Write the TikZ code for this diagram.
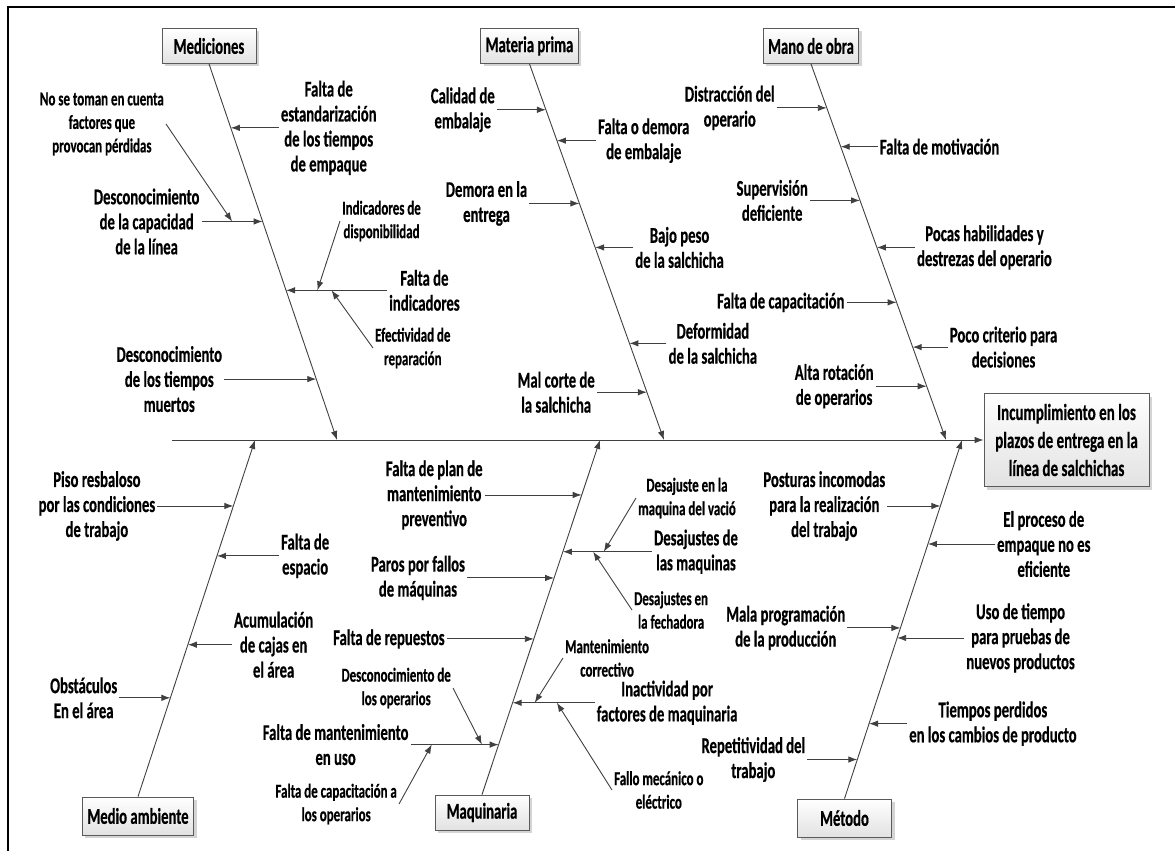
\documentclass[tikz,border=0pt]{standalone}
\usepackage{fontspec}
\setmainfont{Carlito}[FakeStretch=0.653, BoldFeatures={FakeBold=0.5}]
\usepackage{tikz}
\usetikzlibrary{
  positioning, arrows.meta, calc, shadows,
}
\definecolor{cLine}    {HTML}{404040}
\definecolor{cBoxEdge} {HTML}{5A5A5A}
\definecolor{cBoxFill} {HTML}{E2E2E2}
\definecolor{cShadow}  {HTML}{B8B8B8}

\tikzset{
  bone/.style={draw=cLine, line width=0.9pt, -{Latex[length=9pt, width=6.5pt]}},
  lbl/.style={font=\bfseries\fontsize{22.5}{25}\selectfont, align=center, inner sep=2pt},
  sublbl/.style={font=\bfseries\fontsize{19.8}{23.5}\selectfont, align=center, inner sep=2pt},
  catbox/.style={draw=cBoxEdge, line width=0.8pt, top color=white, bottom color=cBoxFill,
    drop shadow={shadow xshift=3pt, shadow yshift=-3pt, fill=cShadow, opacity=0.6},
    font=\bfseries\fontsize{22.5}{25}\selectfont, minimum width=94pt, minimum height=35pt,
    inner xsep=5pt, align=center},
}

\begin{document}
\begin{tikzpicture}[x=1pt, y=-1pt]
  \useasboundingbox (0,0) rectangle (1175,851);
  \draw[line width=2.3pt] (1175,7) -- (8,7) -- (8,851);

  \node[catbox] (med) at (209,46) {Mediciones};
  \node[catbox] (mat) at (529.5,46) {Materia prima};
  \node[catbox] (mob) at (811,46) {Mano de obra};
  \node[catbox, minimum height=38pt] (amb) at (138,816) {Medio ambiente};
  \node[catbox] (maq) at (482,812.5) {Maquinaria};
  \node[catbox, minimum height=38pt] (met) at (844.5,818) {Método};
  \node[catbox, minimum width=165pt, minimum height=93pt, inner xsep=6pt,
        font=\bfseries\fontsize{23}{28}\selectfont] (eff) at (1066.5,440)
       {Incumplimiento en los\\plazos de entrega en la\\línea de salchichas};

  \coordinate (spS)  at (172,440);
  \coordinate (eMed) at (337,440);
  \coordinate (eMat) at (664,440);
  \coordinate (eMob) at (946,440);
  \coordinate (eAmb) at (255,440);
  \coordinate (eMaq) at (600,440);
  \coordinate (eMet) at (962,440);

  \draw[bone] (spS) -- (eff);
  \draw[bone] (med.south) -- (eMed);
  \draw[bone] (mat.south) -- (eMat);
  \draw[bone] (mob.south) -- (eMob);
  \draw[bone] (amb.north) -- (eAmb);
  \draw[bone] (maq.north) -- (eMaq);
  \draw[bone] (met.north) -- (eMet);

  % Mediciones
  \coordinate (mEst) at ($(med.south)!0.170!(eMed)$);
  \coordinate (mCap) at ($(med.south)!0.419!(eMed)$);
  \coordinate (mInd) at ($(med.south)!0.602!(eMed)$);
  \coordinate (mTm)  at ($(med.south)!0.838!(eMed)$);
  \node[lbl, right=48pt of mEst] (est) {Falta de\\estandarización\\de los tiempos\\de empaque};
  \node[lbl, left=61pt of mCap] (cap) {Desconocimiento\\de la capacidad\\de la línea};
  \node[lbl, right=101pt of mInd] (ind) {Falta de\\indicadores};
  \node[lbl, left=92pt of mTm] (tm) {Desconocimiento\\de los tiempos\\muertos};
  \draw[bone] (est.west) -- (mEst);
  \draw[bone] (cap.east) -- (mCap);
  \draw[bone] (ind.west) -- (mInd);
  \draw[bone] (tm.east) -- (mTm);
  \coordinate (pNst)  at ($(cap.east)!0.5!(mCap)$);
  \coordinate (pDisp) at ($(ind.west)!0.69!(mInd)$);
  \coordinate (pEfe)  at ($(ind.west)!0.55!(mInd)$);
  \node[sublbl, anchor=east] (nst) at (166,124) {No se toman en cuenta\\factores que\\provocan pérdidas};
  \node[sublbl, anchor=west] (disp) at (340,221) {Indicadores de\\disponibilidad};
  \node[sublbl, anchor=west] (efe) at (373,348) {Efectividad de\\reparación};
  \draw[bone] (nst.east) -- (pNst);
  \draw[bone] (disp.west) -- (pDisp);
  \draw[bone] (efe.west) -- (pEfe);

  % Materia prima
  \coordinate (mCal)  at ($(mat.south)!0.122!(eMat)$);
  \coordinate (mFde)  at ($(mat.south)!0.204!(eMat)$);
  \coordinate (mDem)  at ($(mat.south)!0.371!(eMat)$);
  \coordinate (mBajo) at ($(mat.south)!0.488!(eMat)$);
  \coordinate (mDef)  at ($(mat.south)!0.743!(eMat)$);
  \coordinate (mMal)  at ($(mat.south)!0.873!(eMat)$);
  \node[lbl, left=49pt of mCal] (cal) {Calidad de\\embalaje};
  \node[lbl, right=39pt of mFde] (fde) {Falta o demora\\de embalaje};
  \node[lbl, left=50pt of mDem] (dem) {Demora en la\\entrega};
  \node[lbl, right=38pt of mBajo] (bajo) {Bajo peso\\de la salchicha};
  \node[lbl, right=37pt of mDef] (def) {Deformidad\\de la salchicha};
  \node[lbl, left=50pt of mMal] (mal) {Mal corte de\\la salchicha};
  \draw[bone] (cal.east) -- (mCal);
  \draw[bone] (fde.west) -- (mFde);
  \draw[bone] (dem.east) -- (mDem);
  \draw[bone] (bajo.west) -- (mBajo);
  \draw[bone] (def.west) -- (mDef);
  \draw[bone] (mal.east) -- (mMal);

  % Mano de obra
  \coordinate (mDis)  at ($(mob.south)!0.117!(eMob)$);
  \coordinate (mMot)  at ($(mob.south)!0.220!(eMob)$);
  \coordinate (mSup)  at ($(mob.south)!0.363!(eMob)$);
  \coordinate (mHab)  at ($(mob.south)!0.488!(eMob)$);
  \coordinate (mFcap) at ($(mob.south)!0.634!(eMob)$);
  \coordinate (mCri)  at ($(mob.south)!0.753!(eMob)$);
  \coordinate (mRot)  at ($(mob.south)!0.857!(eMob)$);
  \node[lbl, left=50pt of mDis] (dis) {Distracción del\\operario};
  \node[lbl, right=37pt of mMot] (mot) {Falta de motivación};
  \node[lbl, left=50pt of mSup] (sup) {Supervisión\\deficiente};
  \node[lbl, right=38pt of mHab] (hab) {Pocas habilidades y\\destrezas del operario};
  \node[lbl, left=50pt of mFcap] (fcap) {Falta de capacitación};
  \node[lbl, right=35pt of mCri] (cri) {Poco criterio para\\decisiones};
  \node[lbl, left=51pt of mRot] (rot) {Alta rotación\\de operarios};
  \draw[bone] (dis.east) -- (mDis);
  \draw[bone] (mot.west) -- (mMot);
  \draw[bone] (sup.east) -- (mSup);
  \draw[bone] (hab.west) -- (mHab);
  \draw[bone] (fcap.east) -- (mFcap);
  \draw[bone] (cri.west) -- (mCri);
  \draw[bone] (rot.east) -- (mRot);

  % Medio ambiente
  \coordinate (mPiso) at ($(eAmb)!0.185!(amb.north)$);
  \coordinate (mEsp)  at ($(eAmb)!0.325!(amb.north)$);
  \coordinate (mAcu)  at ($(eAmb)!0.574!(amb.north)$);
  \coordinate (mObs)  at ($(eAmb)!0.723!(amb.north)$);
  \node[lbl, left=76pt of mPiso] (piso) {Piso resbaloso\\por las condiciones\\de trabajo};
  \node[lbl, right=62pt of mEsp] (esp) {Falta de\\espacio};
  \node[lbl, right=44pt of mAcu] (acu) {Acumulación\\de cajas en\\el área};
  \node[lbl, left=51pt of mObs] (obs) {Obstáculos\\En el área};
  \draw[bone] (piso.east) -- (mPiso);
  \draw[bone] (esp.west) -- (mEsp);
  \draw[bone] (acu.west) -- (mAcu);
  \draw[bone] (obs.east) -- (mObs);

  % Maquinaria
  \coordinate (mPlan)  at ($(eMaq)!0.155!(maq.north)$);
  \coordinate (mDesm)  at ($(eMaq)!0.315!(maq.north)$);
  \coordinate (mParos) at ($(eMaq)!0.389!(maq.north)$);
  \coordinate (mRep)   at ($(eMaq)!0.561!(maq.north)$);
  \coordinate (mIna)   at ($(eMaq)!0.741!(maq.north)$);
  \coordinate (mFmu)   at ($(eMaq)!0.859!(maq.north)$);
  \node[lbl, left=97pt of mPlan] (plan) {Falta de plan de\\mantenimiento\\preventivo};
  \node[lbl, right=89pt of mDesm] (desm) {Desajustes de\\las maquinas};
  \node[lbl, left=87pt of mParos] (paros) {Paros por fallos\\de máquinas};
  \node[lbl, left=87pt of mRep] (rep) {Falta de repuestos};
  \node[lbl, right=82pt of mIna] (ina) {Inactividad por\\factores de maquinaria};
  \node[lbl, left=88pt of mFmu] (fmu) {Falta de mantenimiento\\en uso};
  \draw[bone] (plan.east) -- (mPlan);
  \draw[bone] (desm.west) -- (mDesm);
  \draw[bone] (paros.east) -- (mParos);
  \draw[bone] (rep.east) -- (mRep);
  \draw[bone] (ina.west) -- (mIna);
  \draw[bone] (fmu.east) -- (mFmu);
  \coordinate (pVac)   at ($(desm.west)!0.54!(mDesm)$);
  \coordinate (pFech)  at ($(desm.west)!0.66!(mDesm)$);
  \coordinate (pCorr)  at ($(ina.west)!0.73!(mIna)$);
  \coordinate (pFallo) at ($(ina.west)!0.46!(mIna)$);
  \coordinate (pDop)   at ($(fmu.east)!0.81!(mFmu)$);
  \coordinate (pFcop)  at ($(fmu.east)!0.24!(mFmu)$);
  \node[sublbl, anchor=west] (vac) at (636,498) {Desajuste en la\\maquina del vació};
  \node[sublbl, anchor=west] (fech) at (632,610) {Desajustes en\\la fechadora};
  \node[sublbl, anchor=west] (corr) at (563,658) {Mantenimiento\\correctivo};
  \node[sublbl, anchor=west] (fallo) at (612,790) {Fallo mecánico o\\eléctrico};
  \node[sublbl, anchor=east] (dop) at (453,688) {Desconocimiento de\\los operarios};
  \node[sublbl, anchor=east] (fcop) at (399,804) {Falta de capacitación a\\los operarios};
  \draw[bone] (vac.west) -- (pVac);
  \draw[bone] (fech.west) -- (pFech);
  \draw[bone] (corr.west) -- (pCorr);
  \draw[bone] (fallo.west) -- (pFallo);
  \draw[bone] (dop.east) -- (pDop);
  \draw[bone] (fcop.east) -- (pFcop);

  % Metodo
  \coordinate (mPost) at ($(eMet)!0.184!(met.north)$);
  \coordinate (mProc) at ($(eMet)!0.290!(met.north)$);
  \coordinate (mMala) at ($(eMet)!0.524!(met.north)$);
  \coordinate (mUso)  at ($(eMet)!0.552!(met.north)$);
  \coordinate (mTiem) at ($(eMet)!0.791!(met.north)$);
  \coordinate (mRpt)  at ($(eMet)!0.891!(met.north)$);
  \node[lbl, left=53pt of mPost] (post) {Posturas incomodas\\para la realización\\del trabajo};
  \node[lbl, right=67pt of mProc] (proc) {El proceso de\\empaque no es\\eficiente};
  \node[lbl, left=53pt of mMala] (mala) {Mala programación\\de la producción};
  \node[lbl, right=67pt of mUso] (uso) {Uso de tiempo\\para pruebas de\\nuevos productos};
  \node[lbl, right=38pt of mTiem] (tiem) {Tiempos perdidos\\en los cambios de producto};
  \node[lbl, left=50pt of mRpt] (rpt) {Repetitividad del\\trabajo};
  \draw[bone] (post.east) -- (mPost);
  \draw[bone] (proc.west) -- (mProc);
  \draw[bone] (mala.east) -- (mMala);
  \draw[bone] (uso.west) -- (mUso);
  \draw[bone] (tiem.west) -- (mTiem);
  \draw[bone] (rpt.east) -- (mRpt);
\end{tikzpicture}
\end{document}
